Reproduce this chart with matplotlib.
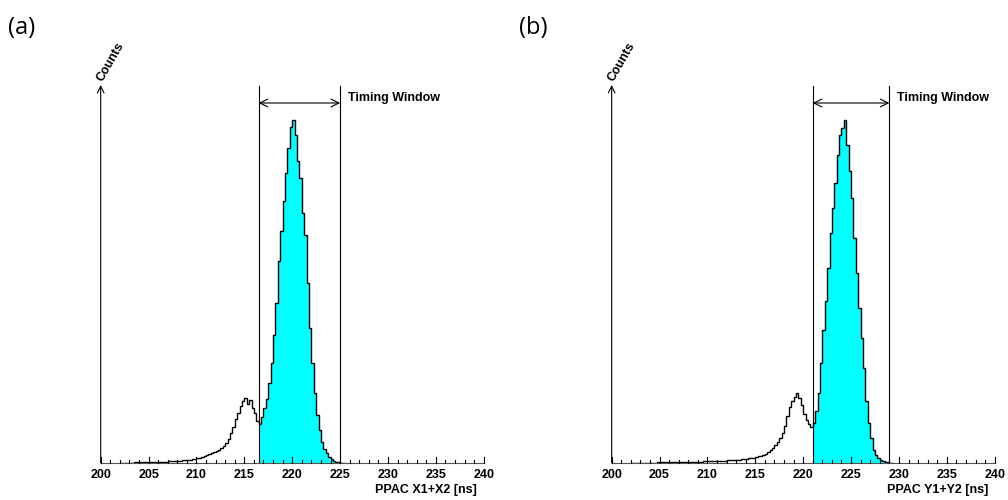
import numpy as np
import matplotlib
matplotlib.use("Agg")
import matplotlib.pyplot as plt

########## Data (bin width 0.25 ns) ##########
bin_width = 0.25

# PPAC X1+X2, first bin starts at 202.0 ns
x_start = 202.0
x_counts = [0.3, 0.3, 0.4, 0.4, 0.5, 0.5, 0.6, 0.6, 0.7, 0.7, 0.8, 0.9,
            0.9, 1.0, 1.1, 1.2, 1.2, 1.3, 1.4, 1.5, 1.6, 1.7, 1.9, 2.0,
            2.2, 2.4, 2.6, 2.9, 3.2, 3.5, 3.9, 4.3, 4.8, 5.4, 6.0, 6.8,
            7.6, 8.6, 9.6, 10.8, 12.0, 13.5, 15, 17, 20, 24, 30, 36,
            44, 50, 57, 62, 65, 59, 63, 55, 50, 42,
            39, 46, 55, 64, 80, 100, 128, 160, 202, 232, 262, 290,
            315, 336, 343, 328, 302, 285, 250, 228, 180, 135, 100, 70,
            48, 33, 21, 14, 10, 6, 4, 2.5, 1.5, 0.8, 0.3, 0.1]
x_window = (216.5, 225.0)

# PPAC Y1+Y2, first bin starts at 202.0 ns
y_start = 202.0
y_counts = [0.2, 0.2, 0.3, 0.3, 0.3, 0.4, 0.4, 0.4, 0.5, 0.5, 0.5, 0.6,
            0.6, 0.7, 0.7, 0.8, 0.8, 0.9, 0.9, 1.0, 1.0, 1.1, 1.1, 1.2,
            1.2, 1.3, 1.3, 1.4, 1.5, 1.5, 1.6, 1.7, 1.8, 1.9, 2.0, 2.1,
            2.2, 2.3, 2.4, 2.5, 2.6, 2.7, 2.8, 3.0, 3.2, 3.4, 3.6, 3.9,
            4.2, 4.6, 5.0, 5.5, 6.0, 6.7, 7.4, 8.3, 9.5, 11, 13, 15.5,
            18, 21, 25, 30, 37, 47, 56, 62, 66, 70, 65, 58,
            49, 43, 39, 36,
            40, 52, 70, 100, 133, 162, 195, 230, 255, 280, 308, 328,
            335, 343, 318, 292, 265, 225, 190, 155, 125, 95, 62, 40,
            25, 13, 8, 5, 3, 2, 1.2, 0.6, 0.3, 0.1]
y_window = (221.0, 229.0)

panels = [
    ("(a)", x_start, x_counts, x_window, "PPAC X1+X2 [ns]", 0.0999),
    ("(b)", y_start, y_counts, y_window, "PPAC Y1+Y2 [ns]", 0.6068),
]

########## Plot ##########
fig = plt.figure(figsize=(10.08, 5.0), dpi=100)
bold = dict(family="Liberation Sans", weight="bold", fontsize=9)

for tag, start, counts, window, xlabel, left in panels:
    ax = fig.add_axes([left, 0.074, 0.380, 0.8])
    ax.set_xlim(200, 240)
    ax.set_ylim(0, 400)
    ax.axis("off")

    counts = np.array(counts)
    edges = start + bin_width * np.arange(len(counts) + 1)
    centers = edges[:-1] + bin_width / 2
    inside = (centers > window[0]) & (centers < window[1])
    idx = np.where(inside)[0]
    ax.stairs(counts[idx], edges[idx[0]:idx[-1] + 2], fill=True,
              color="#00ffff", zorder=1)
    ax.stairs(counts, edges, color="black", linewidth=1.0, zorder=2)

    # x axis with inward ticks
    ax.plot([200, 240], [0, 0], color="#555555", linewidth=0.8, clip_on=False)
    for t in range(200, 241):
        h = 6 if t % 5 == 0 else 3
        ax.plot([t, t], [0, h], color="black", linewidth=0.8, clip_on=False)
        if t % 5 == 0:
            ax.text(t, -12, str(t), ha="center", va="center", **bold)
    ax.text(239.3, -27, xlabel, ha="right", va="center", **bold)

    # y axis arrow
    ax.annotate("", xy=(200, 378), xytext=(200, 0),
                arrowprops=dict(arrowstyle="->", color="black", lw=0.8,
                                shrinkA=0, shrinkB=0, mutation_scale=12))
    ax.text(201.0, 401, "Counts", rotation=60, ha="center", va="center",
            **bold)

    # timing window
    for w in window:
        ax.plot([w, w], [0, 377], color="black", linewidth=0.8)
    ax.annotate("", xy=(window[1], 360), xytext=(window[0], 360),
                arrowprops=dict(arrowstyle="<->", color="black", lw=0.8,
                                shrinkA=0, shrinkB=0, mutation_scale=14))
    ax.text(window[1] + 0.85, 365, "Timing Window", ha="left", va="center",
            **bold)

    fig.text(left - 0.092, 0.944, tag, ha="left", va="center",
             family="Open Sans", fontsize=17)

fig.savefig("out.png", dpi=100)
